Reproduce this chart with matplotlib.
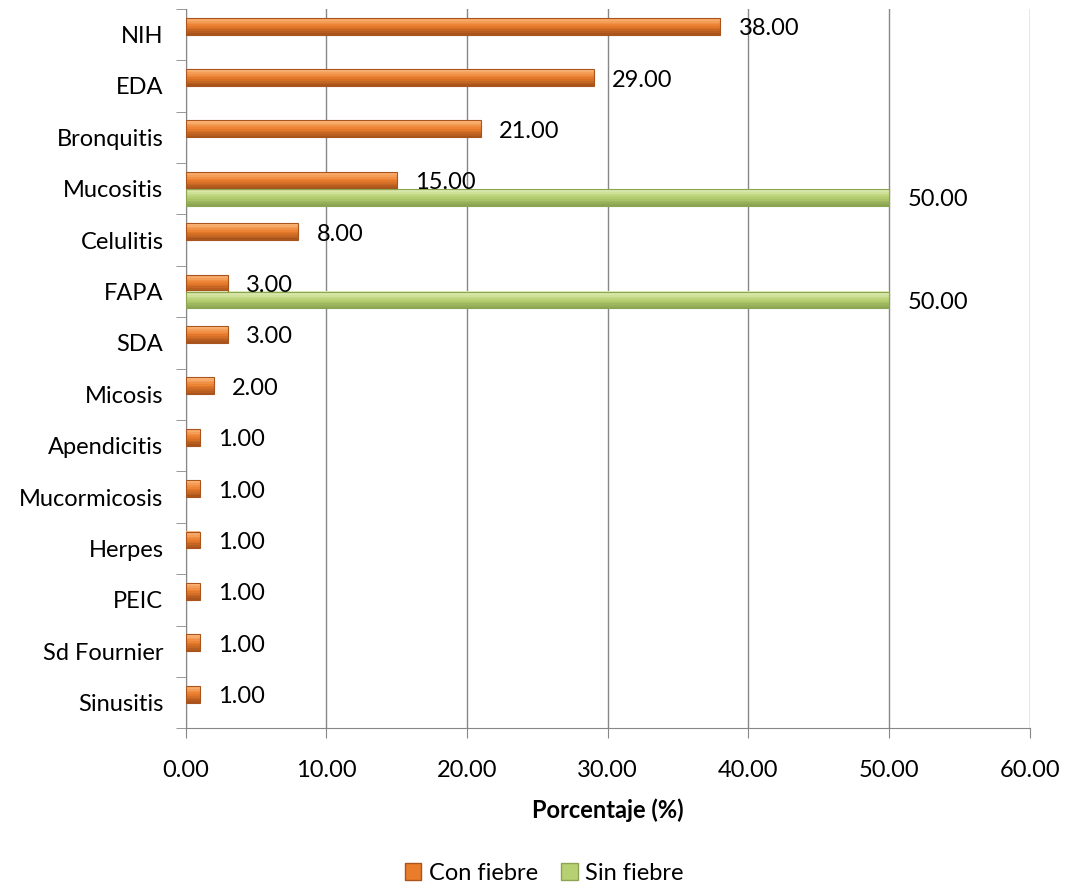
import numpy as np
import matplotlib
matplotlib.use('Agg')
import matplotlib.pyplot as plt
from matplotlib.patches import Patch
from matplotlib.colors import to_rgb

categorias = ['NIH', 'EDA', 'Bronquitis', 'Mucositis', 'Celulitis', 'FAPA', 'SDA',
              'Micosis', 'Apendicitis', 'Mucormicosis', 'Herpes', 'PEIC',
              'Sd Fournier', 'Sinusitis']
con_fiebre = [38, 29, 21, 15, 8, 3, 3, 2, 1, 1, 1, 1, 1, 1]
sin_fiebre = [0, 0, 0, 50, 0, 50, 0, 0, 0, 0, 0, 0, 0, 0]
xticks = [0, 10, 20, 30, 40, 50, 60]

plt.rcParams['font.family'] = ['Lato', 'DejaVu Sans']

fig = plt.figure(figsize=(10.67, 8.85), dpi=100)
ax = fig.add_axes([0.174, 0.177, 0.791, 0.813])

y = np.arange(len(categorias))
h = 0.33
n_strips = 10


def mezcla(c1, c2, t):
    a, b = np.array(to_rgb(c1)), np.array(to_rgb(c2))
    return tuple(a + (b - a) * t)


# barras con degradado vertical (claro arriba, oscuro abajo)
def barras(vals, off, claro, base, oscuro):
    vals = np.array(vals, dtype=float)
    mask = vals > 0
    yy = y[mask] + off
    vv = vals[mask]
    sh = h / n_strips
    for k in range(n_strips):
        t = k / (n_strips - 1)
        col = mezcla(claro, base, t * 2) if t < 0.5 else mezcla(base, oscuro, (t - 0.5) * 2)
        ax.barh(yy - h / 2 + sh * (k + 0.5), vv, height=sh * 1.05, color=col, linewidth=0, zorder=3)
    ax.barh(yy, vv, height=h, fill=False, edgecolor=oscuro, linewidth=0.8, zorder=4)


barras(con_fiebre, -h / 2, '#FBB77A', '#EA7D2C', '#A8541C')
barras(sin_fiebre, h / 2, '#E2EDB8', '#B7D071', '#8CA552')

for i, v in enumerate(con_fiebre):
    ax.text(v + 1.3, y[i] - h / 2 + 0.05, f'{v:.2f}', va='center', ha='left', fontsize=17, zorder=5)
for i, v in enumerate(sin_fiebre):
    if v > 0:
        ax.text(v + 1.3, y[i] + h / 2 + 0.05, f'{v:.2f}', va='center', ha='left', fontsize=17, zorder=5)

ax.set_xlim(0, 60)
ax.set_ylim(len(categorias) - 0.5, -0.5)
ax.set_xticks(xticks)
ax.set_xticklabels([f'{t:.2f}' for t in xticks], fontsize=17)
ax.set_yticks(y)
ax.set_yticklabels(categorias, fontsize=17)
ax.set_yticks(np.arange(len(categorias) + 1) - 0.5, minor=True)
ax.tick_params(axis='y', which='major', length=0, pad=16)
ax.tick_params(axis='y', which='minor', length=7, color='#878787')
ax.tick_params(axis='x', length=7, color='#878787', pad=16)
ax.grid(axis='x', color='#878787', linewidth=1, zorder=0)
for s in ['top', 'right']:
    ax.spines[s].set_visible(False)
for s in ['left', 'bottom']:
    ax.spines[s].set_color('#878787')
ax.set_xlabel('Porcentaje (%)', fontsize=17, fontweight='bold', labelpad=12)

handles = [Patch(facecolor='#EA7D2C', edgecolor='#A8541C', label='Con fiebre'),
           Patch(facecolor='#B7D071', edgecolor='#8CA552', label='Sin fiebre')]
fig.legend(handles=handles, loc='center', bbox_to_anchor=(0.51, 0.013), ncol=2, frameon=False,
           fontsize=17, handlelength=0.7, handleheight=0.7, handletextpad=0.3, columnspacing=1.0)

fig.savefig('out.png', dpi=100)
